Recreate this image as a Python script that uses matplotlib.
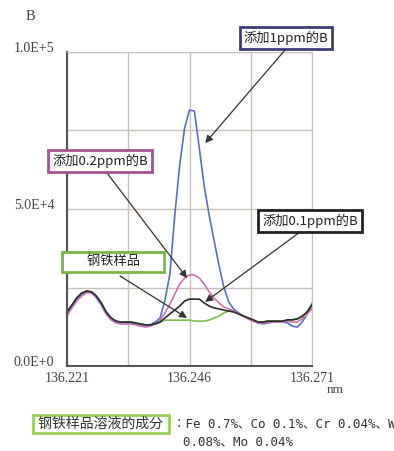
import numpy as np
import matplotlib.pyplot as plt

plt.rcParams['font.family'] = ['Noto Sans CJK JP', 'DejaVu Sans']

# wavelength grid (nm), 0.001 nm step
wavelength = np.round(136.221 + 0.001 * np.arange(51), 3)

# emission intensity of boron line
steel = [17200, 19400, 21700, 23200, 23900, 23600, 22300, 20100, 17200, 15300,
         14300, 14000, 14000, 14000, 13700, 13400, 13100, 13100, 13400, 14000,
         14600, 14600, 14600, 14600, 14600, 14600, 14300, 14300, 14300, 14600,
         15300, 15900, 16900, 17500, 17500, 16900, 15900, 15300, 14700, 14000,
         14000, 14300, 14300, 14300, 14300, 14700, 14700, 15000, 15600, 17200, 20100]
add_01 = [17200, 19400, 21700, 23200, 23900, 23600, 22300, 20100, 17200, 15300,
          14300, 14000, 14000, 14000, 13700, 13400, 13100, 13100, 13400, 14000,
          15300, 16600, 17800, 19100, 20700, 21300, 21300, 21300, 20100, 19100,
          18500, 18200, 17800, 17500, 17200, 16600, 15900, 15300, 14700, 14000,
          14000, 14300, 14300, 14300, 14300, 14700, 14700, 15000, 15900, 17200, 19400]
add_02 = [15900, 18500, 20700, 22300, 23300, 23300, 22000, 19700, 16600, 14700,
          13700, 13400, 13400, 13400, 13100, 12700, 12400, 12700, 13400, 14600,
          16900, 19700, 22900, 26100, 28000, 29000, 29000, 28000, 26100, 23600,
          21700, 20100, 18800, 18200, 17500, 16600, 15900, 15000, 14300, 13700,
          13700, 14000, 14000, 14000, 14000, 14300, 14000, 14000, 15000, 16600, 18200]
add_1 = [16600, 19100, 21300, 22900, 23600, 23300, 21700, 19400, 16600, 14700,
         14000, 13700, 13700, 13700, 13400, 13100, 13100, 13100, 14000, 15300,
         21000, 29300, 48100, 64000, 75800, 81500, 81200, 69400, 57300, 48100,
         40100, 32200, 25200, 20400, 18200, 16900, 15900, 15000, 14300, 13700,
         13400, 13700, 14000, 14000, 14000, 13700, 12700, 12400, 14000, 16600, 19700]

series = [
    (steel, '#7dbf4f'),
    (add_1, '#5b6ec2'),
    (add_02, '#c974b4'),
    (add_01, '#2b2b2b'),
]

composition = ['：Fe 0.7%、Co 0.1%、Cr 0.04%、W', '0.08%、Mo 0.04%']

fig = plt.figure(figsize=(3.94, 4.51), dpi=100)
ax = fig.add_axes([67 / 394, 1 - 366 / 451, 245 / 394, 314 / 451])

for values, color in series:
    ax.plot(wavelength, values, color=color, lw=1.2)

ax.set_xlim(136.221, 136.271)
ax.set_ylim(0, 1.0e5)

grid_col = '#cbbfb9'
ax.set_xticks(np.linspace(136.221, 136.271, 5))
ax.set_xticklabels(['136.221', '', '136.246', '', '136.271'])
ax.set_yticks(np.linspace(0, 1.0e5, 5))
ax.set_yticklabels(['0.0E+0', '', '5.0E+4', '', '1.0E+5'])
ax.tick_params(axis='x', length=0, pad=4, labelsize=10, colors='#444444')
ax.tick_params(axis='y', length=0, pad=9, labelsize=10, colors='#444444')
for lbl in ax.get_xticklabels() + ax.get_yticklabels():
    lbl.set_family('Liberation Serif')
for lbl in ax.get_yticklabels():
    lbl.set_verticalalignment('baseline')
ax.grid(color=grid_col, lw=1)
for side in ('top', 'right'):
    ax.spines[side].set_color(grid_col)
for side in ('left', 'bottom'):
    ax.spines[side].set_color('#555555')
    ax.spines[side].set_linewidth(1.5)

fig.text(30 / 394, 1 - 17 / 451, 'B', family='Liberation Serif', fontsize=10.5,
         color='#444444', ha='center', va='center')
fig.text(335 / 394, 1 - 390 / 451, 'nm', family='Liberation Serif', fontsize=9.5,
         color='#444444', ha='center', va='center')

# callout boxes with arrows
callouts = [
    ('添加1ppm的B', (286, 38), '#3c3c78', (285, 50), (136.2492, 71000)),
    ('添加0.2ppm的B', (100, 161), '#a35490', (107, 173), (136.2455, 28000)),
    ('添加0.1ppm的B', (310, 221), '#222222', (300, 232), (136.2492, 20400)),
    ('       钢铁样品       ', (113, 262), '#7ab648', (120, 276), (136.2455, 15300)),
]
for text, (bx, by), edge, (sx, sy), target in callouts:
    ax.annotate('', xy=target, xycoords='data',
                xytext=(sx, 451 - sy), textcoords='figure pixels',
                arrowprops=dict(arrowstyle='-|>', color='#333333', lw=0.9,
                                mutation_scale=11, shrinkA=0, shrinkB=0))
    fig.text(bx / 394, 1 - by / 451, text, fontsize=9.5, color='#222222',
             ha='center', va='center',
             bbox=dict(boxstyle='square,pad=0.3', fc='white', ec=edge, lw=2))

# sample composition note
fig.text(101 / 394, 1 - 424 / 451, ' 钢铁样品溶液的成分 ', fontsize=10, color='#333333',
         ha='center', va='center',
         bbox=dict(boxstyle='square,pad=0.15', fc='white', ec='#9ccc5a', lw=2))
fig.text(173 / 394, 1 - 424 / 451, composition[0], fontsize=9, color='#333333',
         family=['DejaVu Sans Mono', 'Noto Sans CJK JP'], ha='left', va='center')
fig.text(183 / 394, 1 - 442 / 451, composition[1], fontsize=9, color='#333333',
         family=['DejaVu Sans Mono', 'Noto Sans CJK JP'], ha='left', va='center')

fig.savefig('out.png', dpi=100)
